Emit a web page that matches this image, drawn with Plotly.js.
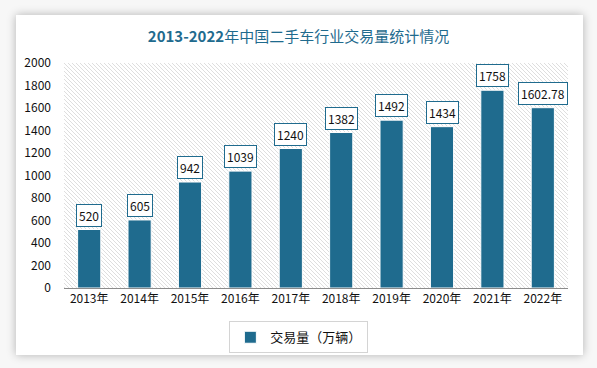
<!DOCTYPE html>
<html><head><meta charset="utf-8">
<script src="https://cdn.plot.ly/plotly-3.0.1.min.js"></script>
<style>
html,body{margin:0;padding:0;background:#f7f7f7;width:597px;height:368px;overflow:hidden;}
#card{position:absolute;left:16px;top:15px;width:567px;height:340px;background:#fff;box-shadow:0 0 9px rgba(0,0,0,0.28);}
#chart{position:absolute;left:0;top:0;width:597px;height:368px;}
</style></head>
<body>
<div id="card"></div>
<div id="chart"></div>
<script>
const years = ["2013年","2014年","2015年","2016年","2017年","2018年","2019年","2020年","2021年","2022年"];
const volume = [520, 605, 942, 1039, 1240, 1382, 1492, 1434, 1758, 1602.78];
const labels = ["520","605","942","1039","1240","1382","1492","1434","1758","1602.78"];
const seriesName = "交易量（万辆）";
const titleText = "<b>2013-2022</b>年中国二手车行业交易量统计情况";

const FONT = "'Noto Sans CJK SC', 'Noto Sans', sans-serif";
const BAR = "#1f6b8e";

const svg = "<svg xmlns='http://www.w3.org/2000/svg' width='504' height='225'><defs><pattern id='p' width='4' height='4' patternUnits='userSpaceOnUse'><path d='M-1,-1 L5,5 M-1,3 L1,5 M3,-1 L5,1' stroke='#d6d6d6' stroke-width='0.8'/></pattern></defs><rect width='504' height='225' fill='#fff'/><rect width='504' height='225' fill='url(#p)'/></svg>";
const bgURI = "data:image/svg+xml;charset=utf-8," + encodeURIComponent(svg);

const annotations = years.map((y, i) => ({
  x: y, y: volume[i], xref: "x", yref: "y",
  text: labels[i], showarrow: false, yanchor: "bottom", yshift: 3,
  bgcolor: "#ffffff", bordercolor: BAR, borderwidth: 1, borderpad: 2,
  font: {family: FONT, size: 12, color: "#111"}
}));

Plotly.newPlot("chart", [{
  type: "bar", x: years, y: volume, name: seriesName,
  marker: {color: BAR, line: {color: "#ffffff", width: 1}},
  width: 0.46, hoverinfo: "none"
}], {
  width: 597, height: 368,
  paper_bgcolor: "rgba(0,0,0,0)", plot_bgcolor: "rgba(0,0,0,0)",
  margin: {l: 64, r: 29, t: 63, b: 80},
  title: {text: titleText, x: 0.5, xanchor: "center", y: 0.9, yanchor: "middle",
    font: {family: FONT, size: 15, color: "#1f6b8e"}},
  xaxis: {type: "category", showgrid: false, showline: true, linecolor: "#8c8c8c", linewidth: 1,
    ticks: "", tickfont: {family: FONT, size: 12, color: "#111"}, fixedrange: true},
  yaxis: {range: [0, 2000], dtick: 200, showgrid: false, zeroline: false, showline: false,
    tickfont: {family: FONT, size: 12, color: "#111"}, ticklabelstandoff: 12, fixedrange: true},
  images: [{source: bgURI, xref: "paper", yref: "paper", x: 0, y: 1, sizex: 1, sizey: 1,
    xanchor: "left", yanchor: "top", sizing: "stretch", layer: "below"}],
  showlegend: true,
  legend: {orientation: "h", x: 0.466, xanchor: "center", y: -0.148, yanchor: "top",
    bordercolor: "#d4d4d4", borderwidth: 1, bgcolor: "#fff",
    font: {family: FONT, size: 13, color: "#111"}, itemwidth: 30},
  annotations: annotations
}, {displayModeBar: false, staticPlot: true});
</script>
</body></html>
